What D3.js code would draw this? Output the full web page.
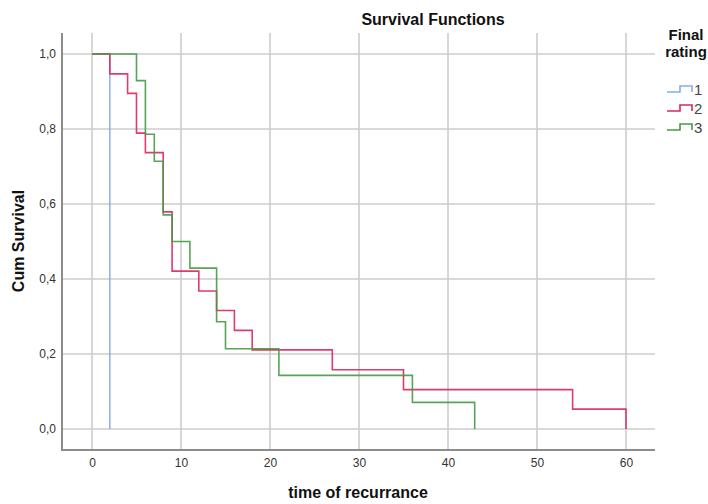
<!DOCTYPE html>
<html>
<head>
<meta charset="utf-8">
<script src="https://cdn.jsdelivr.net/npm/d3@7"></script>
<style>
  html, body { margin: 0; padding: 0; background: #fff; }
  svg { display: block; font-family: "Liberation Sans", Arial, sans-serif; }
</style>
</head>
<body>
<svg id="chart" width="708" height="504"></svg>
<script>
// ---- data ----
const seriesNames = ["1", "2", "3"];
const times1 = [0, 2];
const surv1  = [1.0, 0.0];
const times2 = [0, 2, 4, 5, 6, 8, 9, 12, 14, 16, 18, 27, 35, 54, 60];
const surv2  = [1.0, 0.947, 0.895, 0.789, 0.737, 0.579, 0.421, 0.368, 0.316, 0.263, 0.211, 0.158, 0.105, 0.053, 0.0];
const times3 = [0, 5, 6, 7, 8, 9, 11, 14, 15, 21, 36, 43];
const surv3  = [1.0, 0.929, 0.786, 0.714, 0.571, 0.5, 0.429, 0.286, 0.214, 0.143, 0.071, 0.0];
const xTicks = [0, 10, 20, 30, 40, 50, 60];
const yTicks = [0, 0.2, 0.4, 0.6, 0.8, 1.0];
const colors = ["#82aee8", "#d9275c", "#459a45"];

(function () {
const svg = d3.select("#chart");
const pLeft = 62, pRight = 655, pTop = 33, pBottom = 450;

const x = d3.scaleLinear().domain([0, 60]).range([92, 626]);
const y = d3.scaleLinear().domain([0, 1]).range([429, 54]);

const locale = d3.formatLocale({decimal: ",", thousands: ".", grouping: [3], currency: ["", ""]});
const fmtY = locale.format(".1f");

// grid
const grid = svg.append("g");
grid.selectAll(".hg").data(yTicks).join("line")
  .attr("x1", pLeft).attr("x2", pRight)
  .attr("y1", d => y(d)).attr("y2", d => y(d))
  .attr("stroke", "#cdcdcd").attr("stroke-width", 1.6);
grid.selectAll(".vg").data(xTicks).join("line")
  .attr("x1", d => x(d)).attr("x2", d => x(d))
  .attr("y1", pTop).attr("y2", pBottom)
  .attr("stroke", "#cdcdcd").attr("stroke-width", 1.6);

// axes (labels)
const yAxis = svg.append("g").attr("transform", `translate(${pLeft},0)`)
  .call(d3.axisLeft(y).tickValues(yTicks).tickSize(0).tickPadding(6).tickFormat(fmtY));
yAxis.select(".domain").remove();
yAxis.selectAll("text").attr("font-size", 12).attr("fill", "#333").attr("font-family", "Liberation Sans, Arial, sans-serif");

const xAxis = svg.append("g").attr("transform", `translate(0,${pBottom})`)
  .call(d3.axisBottom(x).tickValues(xTicks).tickSize(0).tickPadding(8).tickFormat(d3.format("d")));
xAxis.select(".domain").remove();
xAxis.selectAll("text").attr("font-size", 12).attr("fill", "#333").attr("font-family", "Liberation Sans, Arial, sans-serif");

// axis lines
svg.append("line").attr("x1", pLeft).attr("x2", pLeft).attr("y1", pTop).attr("y2", pBottom + 1)
  .attr("stroke", "#8c8c8c").attr("stroke-width", 2);
svg.append("line").attr("x1", pLeft - 1).attr("x2", pRight).attr("y1", pBottom).attr("y2", pBottom)
  .attr("stroke", "#8c8c8c").attr("stroke-width", 2);

// curves
const line = d3.line().x(d => x(d[0])).y(d => y(d[1])).curve(d3.curveStepAfter);
const allSeries = [
  d3.zip(times1, surv1),
  d3.zip(times2, surv2),
  d3.zip(times3, surv3)
];
svg.append("g").selectAll("path").data(allSeries).join("path")
  .attr("d", line)
  .attr("fill", "none")
  .attr("stroke", (d, i) => colors[i])
  .attr("stroke-width", 1.6)
  .attr("stroke-opacity", 0.9);

// titles
svg.append("text").attr("x", 433).attr("y", 25).attr("text-anchor", "middle")
  .attr("font-size", 16).attr("font-weight", "bold").attr("fill", "#111")
  .text("Survival Functions");
svg.append("text").attr("x", 358).attr("y", 498).attr("text-anchor", "middle")
  .attr("font-size", 16).attr("font-weight", "bold").attr("fill", "#111")
  .text("time of recurrance");
svg.append("text").attr("transform", "translate(24,241) rotate(-90)").attr("text-anchor", "middle")
  .attr("font-size", 16).attr("font-weight", "bold").attr("fill", "#111")
  .text("Cum Survival");

// legend
const lg = svg.append("g");
lg.append("text").attr("x", 686).attr("y", 40).attr("text-anchor", "middle")
  .attr("font-size", 15).attr("font-weight", "bold").attr("fill", "#111").text("Final");
lg.append("text").attr("x", 686).attr("y", 57).attr("text-anchor", "middle")
  .attr("font-size", 15).attr("font-weight", "bold").attr("fill", "#111").text("rating");
const ly = d3.scaleBand().domain(seriesNames).range([80, 137]);
const items = lg.selectAll(".item").data(seriesNames).join("g")
  .attr("transform", d => `translate(0,${ly(d)})`);
items.append("path")
  .attr("d", "M667,12H680V6H692V12")
  .attr("fill", "none")
  .attr("stroke", (d, i) => colors[i]).attr("stroke-width", 1.6);
items.append("text").attr("x", 694).attr("y", 15)
  .attr("font-size", 15).attr("fill", "#444").text(d => d);
})();
</script>
</body>
</html>
